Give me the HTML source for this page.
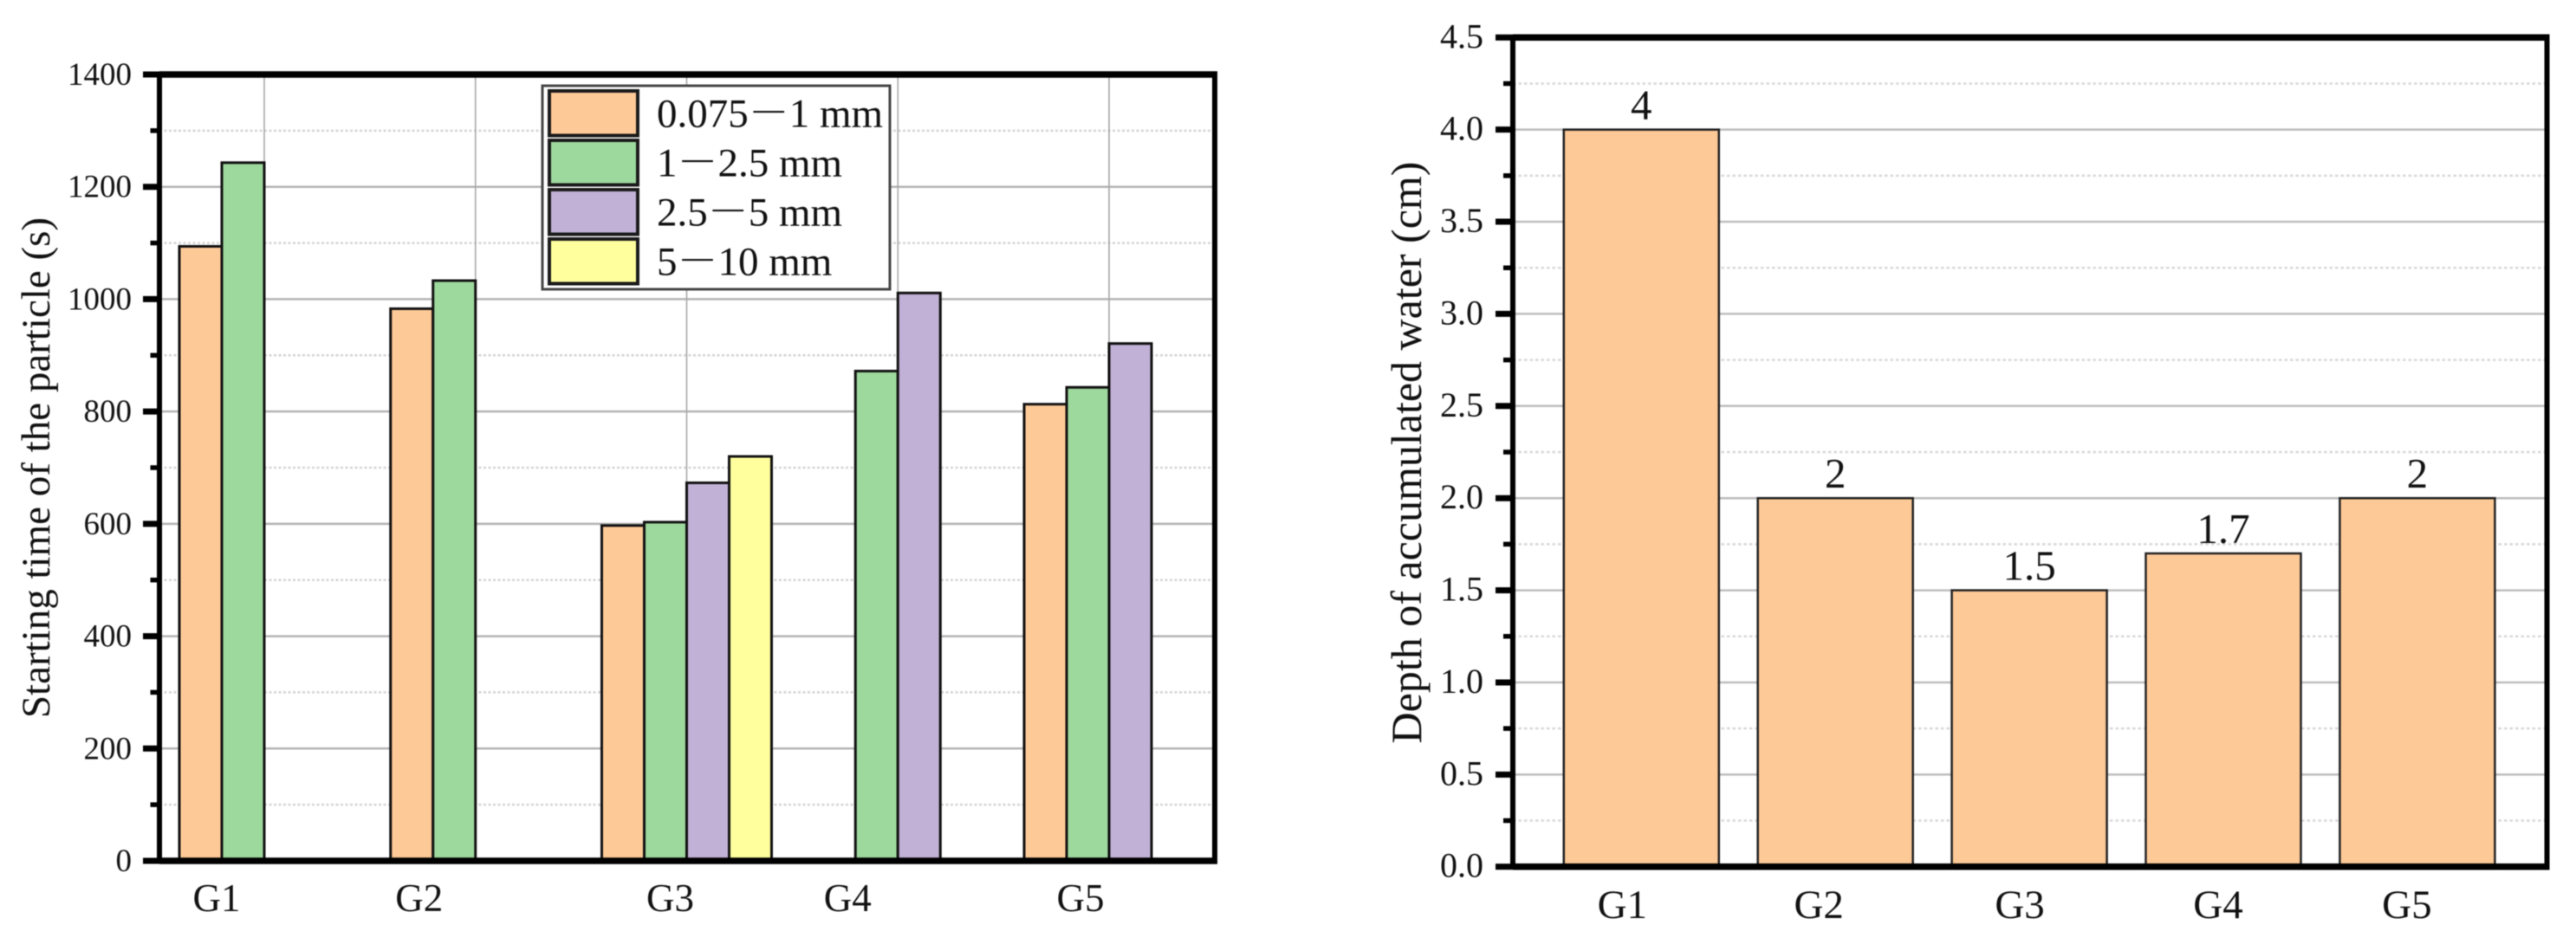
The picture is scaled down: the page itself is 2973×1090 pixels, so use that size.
<!DOCTYPE html>
<html lang="en">
<head>
<meta charset="utf-8">
<title>Particle starting time and accumulated water depth</title>
<style>
html,body{margin:0;padding:0;background:#fff;}
body{width:2973px;height:1090px;overflow:hidden;}
svg{display:block;filter:blur(0.6px);}
text{font-family:"Liberation Serif","Noto Serif CJK SC",serif;fill:#111;}
</style>
</head>
<body>
<svg id="figure" xmlns="http://www.w3.org/2000/svg" width="2973" height="1090" viewBox="0 0 2973 1090">
  <g id="left-chart"></g>
  <g id="right-chart"></g>
</svg>
<script>
// ---------- Left chart data ----------
const leftCategories = ['G1', 'G2', 'G3', 'G4', 'G5'];
const seriesNames = ['0.075－1 mm', '1－2.5 mm', '2.5－5 mm', '5－10 mm'];
const series0075to1 = [1094, 983, 597, null, 813];
const series1to25 = [1243, 1033, 603, 872, 843];
const series25to5 = [null, null, 673, 1011, 921];
const series5to10 = [null, null, 720, null, null];
const leftMajorTicks = [0, 200, 400, 600, 800, 1000, 1200, 1400];
const leftMinorTicks = [100, 300, 500, 700, 900, 1100, 1300];

// ---------- Right chart data ----------
const rightCategories = ['G1', 'G2', 'G3', 'G4', 'G5'];
const waterDepth = [4, 2, 1.5, 1.7, 2];
const rightMajorTicks = ['0.0', '0.5', '1.0', '1.5', '2.0', '2.5', '3.0', '3.5', '4.0', '4.5'];
const rightMinorTicks = [0.25, 0.75, 1.25, 1.75, 2.25, 2.75, 3.25, 3.75, 4.25];

// ---------- Styling ----------
const seriesFills = ['#FDC997', '#9DD89D', '#C1B1D6', '#FFFF9E'];
const NS = 'http://www.w3.org/2000/svg';
const leftChart = document.getElementById('left-chart');
const rightChart = document.getElementById('right-chart');

function make(parent, tag, attrs, content) {
  const el = document.createElementNS(NS, tag);
  for (const key in attrs) { el.setAttribute(key, attrs[key]); }
  if (content !== undefined) { el.textContent = content; }
  parent.appendChild(el);
  return el;
}

// ---------- Axis functions ----------
const leftBox = { x0: 184, x1: 1402, y0: 994, y1: 86 };
const rightBox = { x0: 1746, x1: 2939.5, y0: 1000.7, y1: 43.3 };
const leftYMax = 1400;
const rightYMax = 4.5;
function leftY(v) { return leftBox.y0 + (leftBox.y1 - leftBox.y0) * v / leftYMax; }
function rightY(v) { return rightBox.y0 + (rightBox.y1 - rightBox.y0) * v / rightYMax; }
function leftX(i) { return 305 + i * 243.75; }
function rightX(i) { return 1894.3 + i * 223.9; }
const leftSlot = 49;
const rightBarWidth = 179;

// ---------- Left chart ----------
leftMinorTicks.forEach(function (v) {
  const grid = make(leftChart, 'line', { x1: leftBox.x0, x2: leftBox.x1, y1: leftY(v), y2: leftY(v), stroke: '#d4d4d4', 'stroke-width': 2.5, 'stroke-dasharray': '3 2.5' });
  
  
  const tick = make(leftChart, 'line', { x1: 173.5, x2: leftBox.x0, y1: leftY(v), y2: leftY(v), stroke: '#000', 'stroke-width': 5.5 });
  
  
});
leftMajorTicks.forEach(function (v) {
  const grid = make(leftChart, 'line', { x1: leftBox.x0, x2: leftBox.x1, y1: leftY(v), y2: leftY(v), stroke: '#b4b4b4', 'stroke-width': 2.5 });
  
  
});
leftCategories.forEach(function (c, i) {
  const grid = make(leftChart, 'line', { x1: leftX(i), x2: leftX(i), y1: leftBox.y1, y2: leftBox.y0, stroke: '#a8a8a8', 'stroke-width': 1.6 });
  
  
});

const leftSeries = [series0075to1, series1to25, series25to5, series5to10];
leftSeries.forEach(function (values, s) {
  values.forEach(function (v, i) {
    if (v === null) { return; }
    const bar = make(leftChart, 'rect', {
      x: leftX(i) + (s - 2) * leftSlot,
      y: leftY(v),
      width: leftSlot,
      height: leftBox.y0 - leftY(v),
      fill: seriesFills[s],
      stroke: '#111',
      'stroke-width': 3
    });
    
    
  });
});

// Left frame
const leftFrame = make(leftChart, 'rect', { x: leftBox.x0, y: leftBox.y1, width: leftBox.x1 - leftBox.x0, height: leftBox.y0 - leftBox.y1, fill: 'none', stroke: '#000', 'stroke-width': 6 });


const leftTop = make(leftChart, 'line', { x1: leftBox.x0, x2: leftBox.x1 + 3, y1: leftBox.y1, y2: leftBox.y1, stroke: '#000', 'stroke-width': 7.5 });


const leftBottom = make(leftChart, 'line', { x1: leftBox.x0, x2: leftBox.x1 + 3, y1: leftBox.y0, y2: leftBox.y0, stroke: '#000', 'stroke-width': 7.5 });



leftMajorTicks.forEach(function (v) {
  const tick = make(leftChart, 'line', { x1: 165, x2: leftBox.x0, y1: leftY(v), y2: leftY(v), stroke: '#000', 'stroke-width': 7 });
  
  
  const label = make(leftChart, 'text', { x: 152, y: leftY(v) + 12, 'text-anchor': 'end', 'font-size': 37 }, String(v));
  
  
});

// Category labels sit left of their gridlines in the source figure
const leftLabelShift = [-55, -65, -19, -58, -33];
leftCategories.forEach(function (c, i) {
  const label = make(leftChart, 'text', { x: leftX(i) + leftLabelShift[i], y: 1052, 'text-anchor': 'middle', 'font-size': 45 }, c);
  
  
});

const leftTitle = make(leftChart, 'text', { transform: 'translate(57 540) rotate(-90)', 'text-anchor': 'middle', 'font-size': 47 }, 'Starting time of the particle (s)');



// Legend
const legend = make(leftChart, 'g', {});


const legendBox = make(legend, 'rect', { x: 626, y: 99, width: 401, height: 235, fill: '#fff', stroke: '#444', 'stroke-width': 3 });


seriesNames.forEach(function (name, s) {
  const top = 105 + s * 57;
  const swatch = make(legend, 'rect', { x: 634, y: top, width: 102, height: 51.5, fill: seriesFills[s], stroke: '#1a1a1a', 'stroke-width': 4 });
  
  
  const label = make(legend, 'text', { x: 758, y: top + 41.5, 'font-size': 47 }, name);
  
  
});

// ---------- Right chart ----------
rightMinorTicks.forEach(function (v) {
  const grid = make(rightChart, 'line', { x1: rightBox.x0, x2: rightBox.x1, y1: rightY(v), y2: rightY(v), stroke: '#d8d8d8', 'stroke-width': 2.5, 'stroke-dasharray': '3.5 3' });
  
  
  const tick = make(rightChart, 'line', { x1: 1735, x2: rightBox.x0, y1: rightY(v), y2: rightY(v), stroke: '#000', 'stroke-width': 5.5 });
  
  
});
rightMajorTicks.forEach(function (t) {
  const v = parseFloat(t);
  const grid = make(rightChart, 'line', { x1: rightBox.x0, x2: rightBox.x1, y1: rightY(v), y2: rightY(v), stroke: '#bdbdbd', 'stroke-width': 2.5 });
  
  
});

waterDepth.forEach(function (v, i) {
  const bar = make(rightChart, 'rect', {
    x: rightX(i) - rightBarWidth / 2,
    y: rightY(v),
    width: rightBarWidth,
    height: rightBox.y0 - rightY(v),
    fill: '#FDC997',
    stroke: '#222',
    'stroke-width': 2.5
  });
  
  
  const value = make(rightChart, 'text', { x: rightX(i), y: rightY(v) - 12, 'text-anchor': 'middle', 'font-size': 49 }, String(v));
  
  
});

const rightFrame = make(rightChart, 'rect', { x: rightBox.x0, y: rightBox.y1, width: rightBox.x1 - rightBox.x0, height: rightBox.y0 - rightBox.y1, fill: 'none', stroke: '#000', 'stroke-width': 6 });


const rightTop = make(rightChart, 'line', { x1: rightBox.x0, x2: rightBox.x1 + 3, y1: rightBox.y1, y2: rightBox.y1, stroke: '#000', 'stroke-width': 7.5 });


const rightBottom = make(rightChart, 'line', { x1: rightBox.x0, x2: rightBox.x1 + 3, y1: rightBox.y0, y2: rightBox.y0, stroke: '#000', 'stroke-width': 7.5 });



rightMajorTicks.forEach(function (t) {
  const v = parseFloat(t);
  const tick = make(rightChart, 'line', { x1: 1726, x2: rightBox.x0, y1: rightY(v), y2: rightY(v), stroke: '#000', 'stroke-width': 7 });
  
  
  const label = make(rightChart, 'text', { x: 1712, y: rightY(v) + 12, 'text-anchor': 'end', 'font-size': 40 }, t);
  
  
});

const rightLabelShift = [-22, -19, -11, -6, -12];
rightCategories.forEach(function (c, i) {
  const label = make(rightChart, 'text', { x: rightX(i) + rightLabelShift[i], y: 1060, 'text-anchor': 'middle', 'font-size': 47 }, c);
  
  
});

const rightTitle = make(rightChart, 'text', { transform: 'translate(1640 522.5) rotate(-90)', 'text-anchor': 'middle', 'font-size': 50 }, 'Depth of accumulated water (cm)');


</script>
</body>
</html>
